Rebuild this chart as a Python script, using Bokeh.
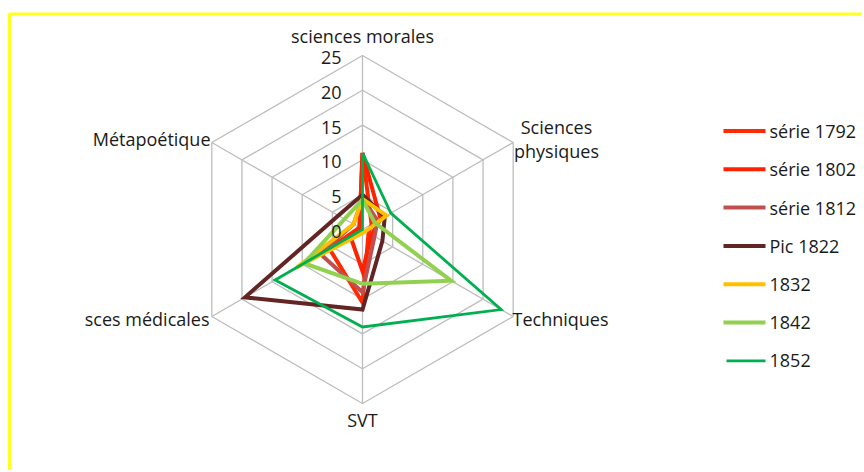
import math
from bokeh.plotting import figure
from bokeh.models import Range1d
from bokeh.embed import file_html
from bokeh.resources import INLINE
from bokeh.core.properties import value

# ---------------- data ----------------
categories = ["sciences morales", "Sciences\nphysiques", "Techniques", "SVT", "sces médicales", "Métapoétique"]
series_names = ["série 1792", "série 1802", "série 1812", "Pic 1822", "1832", "1842", "1852"]
s1792 = [11, 1.5, 1, 10.5, 5.5, 0.5]
s1802 = [11, 3, 1.5, 6, 2, 0.5]
s1812 = [4.5, 2.5, 2, 9, 7, 1.5]
s1822 = [5, 3.7, 3.3, 11.5, 19.5, 4]
s1832 = [4.4, 4, 0.5, 0.5, 11, 1.5]
s1842 = [4.3, 2, 14.7, 7.8, 9.7, 3]
s1852 = [11, 4.7, 23, 14, 14.5, 0]
tick_values = [0, 5, 10, 15, 20, 25]

series_values = [s1792, s1802, s1812, s1822, s1832, s1842, s1852]
series_colors = ["#FF2A00", "#FF2200", "#C0504D", "#632523", "#FFC000", "#92D050", "#00B050"]
series_widths = [4, 4, 4, 4, 4, 4, 2.8]

# ---------------- layout ----------------
W, H = 862, 470
PX = 6.96            # pixels per value unit
CX, CY = 362, 229    # centre of the radar in pixels
FONT = "Open Sans"
FS = "18px"

def dx(px):  # pixel x -> data x
    return (px - CX) / PX

def dy(py):  # pixel y (from top) -> data y
    return (CY - py) / PX

p = figure(width=W, height=H, output_backend="svg", toolbar_location=None,
           x_range=Range1d(dx(0), dx(W)), y_range=Range1d(dy(H), dy(0)),
           min_border=0)
p.axis.visible = False
p.grid.visible = False
p.outline_line_color = None
p.background_fill_color = "white"
p.border_fill_color = "white"

n = len(categories)
angles = [math.radians(90 - 360.0 * i / n) for i in range(n)]
rmax = max(tick_values)

# yellow frame
p.line([dx(9), dx(9), dx(W + 10)], [dy(H + 10), dy(13.5), dy(13.5)],
       line_color="#FFFF20", line_width=3)

# grid rings
for t in tick_values[1:]:
    xs = [t * math.cos(a) for a in angles] + [t * math.cos(angles[0])]
    ys = [t * math.sin(a) for a in angles] + [t * math.sin(angles[0])]
    p.line(xs, ys, line_color="#BDBDBD", line_width=1.3)
# spokes
for a in angles:
    p.line([0, rmax * math.cos(a)], [0, rmax * math.sin(a)], line_color="#BDBDBD", line_width=1.3)

# series
for vals, col, lw in zip(series_values, series_colors, series_widths):
    xs = [v * math.cos(a) for v, a in zip(vals, angles)]
    ys = [v * math.sin(a) for v, a in zip(vals, angles)]
    xs.append(xs[0]); ys.append(ys[0])
    p.line(xs, ys, line_color=col, line_width=lw, line_join="miter")

# tick labels
p.text(x=[dx(CX - 21)] * len(tick_values), y=[t - 2.0 / PX for t in tick_values],
       text=[str(t) for t in tick_values], text_align="right", text_baseline="middle",
       text_font=value(FONT), text_font_size=FS, text_color="#1A1A1A")

# category labels
lab_x = [dx(362), dx(556), dx(512), dx(362), dx(209), dx(210)]
lab_y = [dy(35), dy(138), dy(318), dy(419), dy(318), dy(138)]
lab_align = ["center", "center", "left", "center", "right", "right"]
for cx_, cy_, txt, al in zip(lab_x, lab_y, categories, lab_align):
    p.text(x=[cx_], y=[cy_], text=[txt], text_align=al, text_baseline="middle",
           text_font=value(FONT), text_font_size=FS, text_color="#1A1A1A",
           text_line_height=1.0)

# legend
leg_y0, leg_step = 130.5, 38.3
for i, (name, col, lw) in enumerate(zip(series_names, series_colors, series_widths)):
    yy = dy(leg_y0 + i * leg_step)
    x0 = 723 if lw >= 4 else 726
    p.line([dx(x0), dx(765)], [yy, yy], line_color=col, line_width=lw)
    p.text(x=[dx(769)], y=[yy], text=[name], text_align="left", text_baseline="middle",
           text_font=value(FONT), text_font_size=FS, text_color="#1A1A1A")

open("out.html", "w").write(file_html(p, INLINE))
